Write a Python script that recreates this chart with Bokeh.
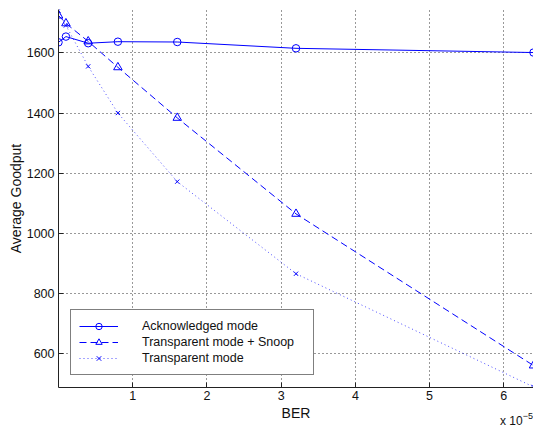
from bokeh.plotting import figure
from bokeh.models import Range1d, FixedTicker, Legend, LegendItem, Div
from bokeh.layouts import column
from bokeh.embed import file_html
from bokeh.resources import INLINE

# BER in units of 1e-5
ber = [0.0, 0.1, 0.4, 0.8, 1.6, 3.2, 6.4]
ack_mode = [1635, 1654, 1632, 1637, 1636, 1615, 1601]
transparent_snoop = [1724, 1698, 1638, 1552, 1384, 1065, 561]
transparent_mode = [1740, 1691, 1555, 1400, 1172, 866, 490]
x_ticks = [1, 2, 3, 4, 5, 6]
y_ticks = [600, 800, 1000, 1200, 1400, 1600]

FONT = "Liberation Sans"
BLUE = "#0000ff"

p = figure(width=533, height=428, output_backend="svg", toolbar_location=None,
           x_range=Range1d(0, 6.4), y_range=Range1d(488, 1744),
           min_border_left=58, min_border_right=0, min_border_top=9, min_border_bottom=41)
p.outline_line_color = None
p.background_fill_color = "white"

l1 = p.line(ber, ack_mode, line_color=BLUE, line_width=1)
s1 = p.scatter(ber, ack_mode, marker="circle", size=7.5, line_color=BLUE, fill_color=None, line_width=1)
l2 = p.line(ber, transparent_snoop, line_color=BLUE, line_width=1, line_dash="7 4")
s2 = p.scatter(ber, transparent_snoop, marker="triangle", size=8.5, line_color=BLUE, fill_color=None, line_width=1)
l3 = p.line(ber, transparent_mode, line_color=BLUE, line_width=1, line_dash="1 3", line_alpha=0.7)
s3 = p.scatter(ber, transparent_mode, marker="x", size=6, line_color=BLUE, line_width=1)

for ax, ticks in ((p.xaxis, x_ticks), (p.yaxis, y_ticks)):
    ax.ticker = FixedTicker(ticks=ticks)
    ax.minor_tick_line_color = None
    ax.major_tick_in = 5
    ax.major_tick_out = 0
    ax.axis_line_color = "#222222"
    ax.major_tick_line_color = "#222222"
    ax.major_label_text_font = FONT
    ax.major_label_text_font_size = "12.5px"
    ax.major_label_text_color = "#111111"
    ax.axis_label_text_font = FONT
    ax.axis_label_text_font_size = "14px"
    ax.axis_label_text_font_style = "normal"
    ax.axis_label_text_color = "#111111"

p.xaxis.axis_label = "BER"
p.yaxis.axis_label = "Average Goodput"
p.xaxis.major_label_standoff = 3
p.xaxis.axis_label_standoff = 2
p.yaxis.major_label_standoff = 4
p.yaxis.axis_label_standoff = 0

p.xgrid.ticker = FixedTicker(ticks=x_ticks)
p.ygrid.ticker = FixedTicker(ticks=y_ticks)
for g in (p.xgrid, p.ygrid):
    g.grid_line_color = "#333333"
    g.grid_line_dash = "1 3"
    g.grid_line_width = 1

legend = Legend(items=[
    LegendItem(label="Acknowledged mode", renderers=[l1, s1]),
    LegendItem(label="Transparent mode + Snoop", renderers=[l2, s2]),
    LegendItem(label="Transparent mode", renderers=[l3, s3]),
], location=(12, 12))
legend.border_line_color = "black"
legend.border_line_width = 1.5
legend.background_fill_color = "white"
legend.background_fill_alpha = 1
legend.label_text_font = FONT
legend.label_text_font_size = "12.5px"
legend.label_text_color = "#111111"
legend.glyph_width = 39
legend.glyph_height = 16
legend.label_height = 16
legend.label_standoff = 24
legend.label_width = 163
legend.padding = 8
legend.spacing = 0
legend.margin = 0
p.add_layout(legend, "center")

# exponent note below the right end of the x axis
note = Div(text='x 10<span style="font-size:9px;position:relative;top:-6px">\u22125</span>',
           width=33, height=14, margin=(-13, 0, 0, 500),
           styles={"font-family": FONT, "font-size": "12px", "line-height": "12px",
                   "color": "#111111", "white-space": "nowrap"})

open("out.html", "w").write(file_html(column(p, note, spacing=0), INLINE))
